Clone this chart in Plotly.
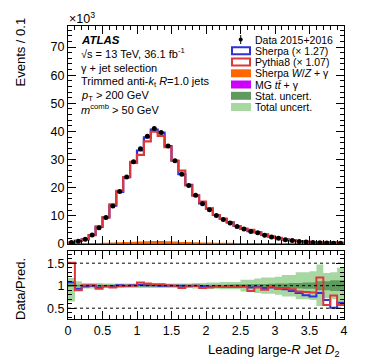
import numpy as np
import plotly.graph_objects as go

# D2 binning, 40 bins of 0.1
edges = np.round(np.arange(0, 4.01, 0.1), 2)
centers = edges[:-1] + 0.05

# data, events in units of 10^3
data = [0.5, 1.0, 1.7, 3.2, 5.8, 9.4, 13.5, 18.7, 23.8, 29.2,
        33.9, 38.3, 41.1, 39.6, 34.8, 29.6, 24.8, 20.8, 17.3, 14.3,
        12.2, 10.1, 8.7, 7.5, 6.2, 5.3, 4.4, 4.0, 3.1, 2.5,
        2.0, 1.5, 1.2, 0.9, 0.7, 0.5, 0.45, 0.35, 0.3, 0.25]

# data / prediction
ratio_sherpa = [1.07, 0.93, 0.98, 1.00, 0.96, 0.99, 0.99, 1.01, 1.00, 1.01,
                1.02, 1.01, 1.01, 1.00, 1.00, 1.00, 1.00, 0.99, 1.00, 0.99,
                0.97, 0.98, 0.97, 0.98, 0.97, 0.98, 0.96, 0.97, 0.95, 0.96,
                0.94, 0.92, 0.88, 0.84, 0.79, 0.76, 0.84, 0.68, 0.51, 0.62]
ratio_pythia = [1.51, 0.90, 1.01, 1.01, 0.93, 0.99, 0.96, 0.99, 1.00, 1.00,
                1.07, 1.05, 1.03, 1.03, 1.01, 1.00, 0.95, 1.00, 1.00, 0.95,
                0.96, 0.98, 0.97, 0.97, 0.97, 0.98, 0.88, 0.96, 0.91, 0.98,
                0.93, 0.95, 0.92, 0.87, 0.86, 0.85, 1.18, 0.57, 0.78, 0.57]

# backgrounds (10^3 events)
sherpa_vgamma = [0.01, 0.02, 0.04, 0.07, 0.12, 0.18, 0.27, 0.37, 0.47, 0.57,
                 0.66, 0.74, 0.78, 0.76, 0.68, 0.58, 0.48, 0.40, 0.33, 0.27,
                 0.23, 0.19, 0.16, 0.14, 0.12, 0.10, 0.08, 0.07, 0.06, 0.05,
                 0.04, 0.03, 0.03, 0.02, 0.02, 0.01, 0.01, 0.01, 0.01, 0.01]
mg_ttgamma = [0.0, 0.0, 0.01, 0.01, 0.01, 0.02, 0.02, 0.03, 0.03, 0.03,
              0.03, 0.03, 0.03, 0.03, 0.03, 0.02, 0.02, 0.02, 0.02, 0.01,
              0.01, 0.01, 0.01, 0.01, 0.01, 0.0, 0.0, 0.0, 0.0, 0.0,
              0.0, 0.0, 0.0, 0.0, 0.0, 0.0, 0.0, 0.0, 0.0, 0.0]

# relative uncertainties in ratio panel
stat_unc = [0.03, 0.02, 0.02, 0.02, 0.02, 0.02, 0.02, 0.02, 0.02, 0.02,
            0.02, 0.02, 0.02, 0.02, 0.02, 0.02, 0.02, 0.02, 0.02, 0.02,
            0.02, 0.02, 0.02, 0.025, 0.03, 0.03, 0.035, 0.04, 0.04, 0.045,
            0.05, 0.05, 0.06, 0.06, 0.07, 0.07, 0.1, 0.1, 0.12, 0.12]
total_up = [0.17, 0.10, 0.06, 0.06, 0.06, 0.05, 0.05, 0.05, 0.05, 0.05,
            0.05, 0.05, 0.05, 0.05, 0.05, 0.05, 0.05, 0.05, 0.06, 0.06,
            0.07, 0.07, 0.08, 0.08, 0.08, 0.13, 0.13, 0.16, 0.18, 0.18,
            0.20, 0.24, 0.24, 0.30, 0.30, 0.32, 0.47, 0.28, 0.30, 0.40]
total_dn = [0.35, 0.12, 0.06, 0.06, 0.06, 0.05, 0.05, 0.05, 0.05, 0.05,
            0.05, 0.05, 0.05, 0.05, 0.05, 0.05, 0.05, 0.05, 0.06, 0.06,
            0.07, 0.07, 0.08, 0.08, 0.08, 0.13, 0.13, 0.16, 0.18, 0.18,
            0.20, 0.24, 0.24, 0.30, 0.30, 0.32, 0.45, 0.28, 0.30, 0.40]

data = np.array(data)
sherpa = data / np.array(ratio_sherpa)
pythia = data / np.array(ratio_pythia)

BLUE = "#3030dd"
RED = "#dd3838"
ORANGE = "#ff6600"
PURPLE = "#cc00ff"
STAT = "#5f9a5f"
TOTAL = "#a8d8a2"
FONT = "Liberation Sans"


def steps(v):
    v = list(v)
    return v + [v[-1]]


fig = go.Figure()

# main panel
fig.add_trace(go.Scatter(x=edges, y=steps(sherpa_vgamma), mode="lines", line_shape="hv",
                         line=dict(color=ORANGE, width=1.5), fill="tozeroy", fillcolor=ORANGE,
                         xaxis="x", yaxis="y"))
fig.add_trace(go.Scatter(x=edges, y=steps(mg_ttgamma), mode="lines", line_shape="hv",
                         line=dict(color=PURPLE, width=1), xaxis="x", yaxis="y"))
fig.add_trace(go.Scatter(x=edges, y=steps(sherpa), mode="lines", line_shape="hv",
                         line=dict(color=BLUE, width=2.2), xaxis="x", yaxis="y"))
fig.add_trace(go.Scatter(x=edges, y=steps(pythia), mode="lines", line_shape="hv",
                         line=dict(color=RED, width=2.2), xaxis="x", yaxis="y"))
fig.add_trace(go.Scatter(x=centers, y=data, mode="markers",
                         marker=dict(color="black", size=5), xaxis="x", yaxis="y"))

# ratio panel bands
ones = np.ones(len(centers))
fig.add_trace(go.Scatter(x=edges, y=steps(ones - np.array(total_dn)), mode="lines", line_shape="hv",
                         line=dict(width=0, color=TOTAL), xaxis="x2", yaxis="y2"))
fig.add_trace(go.Scatter(x=edges, y=steps(ones + np.array(total_up)), mode="lines", line_shape="hv",
                         line=dict(width=0, color=TOTAL), fill="tonexty", fillcolor=TOTAL,
                         xaxis="x2", yaxis="y2"))
fig.add_trace(go.Scatter(x=edges, y=steps(ones - np.array(stat_unc)), mode="lines", line_shape="hv",
                         line=dict(width=0, color=STAT), xaxis="x2", yaxis="y2"))
fig.add_trace(go.Scatter(x=edges, y=steps(ones + np.array(stat_unc)), mode="lines", line_shape="hv",
                         line=dict(width=0, color=STAT), fill="tonexty", fillcolor=STAT,
                         xaxis="x2", yaxis="y2"))
fig.add_trace(go.Scatter(x=edges, y=steps(ratio_sherpa), mode="lines", line_shape="hv",
                         line=dict(color=BLUE, width=2), xaxis="x2", yaxis="y2"))
fig.add_trace(go.Scatter(x=edges, y=steps(ratio_pythia), mode="lines", line_shape="hv",
                         line=dict(color=RED, width=2), xaxis="x2", yaxis="y2"))

# dotted reference lines
for lvl in [0.5, 1.0, 1.5]:
    fig.add_shape(type="line", xref="x2 domain", yref="y2", x0=0, x1=1, y0=lvl, y1=lvl,
                  line=dict(color="black", width=1, dash="dot"), layer="above")

axis_common = dict(showline=True, linecolor="black", linewidth=1, mirror="allticks",
                   ticks="inside", tickcolor="black", showgrid=False, zeroline=False,
                   tickfont=dict(family=FONT, size=12.5, color="black"))

fig.update_layout(
    width=374, height=359,
    margin=dict(l=60, r=38, t=18, b=48),
    paper_bgcolor="white", plot_bgcolor="white",
    showlegend=False,
    font=dict(family=FONT, color="black"),
    xaxis=dict(domain=[0, 1], anchor="y", range=[0, 4], dtick=0.5, ticklen=8,
               showticklabels=False,
               minor=dict(dtick=0.1, ticks="inside", ticklen=4, tickcolor="black"), **axis_common),
    yaxis=dict(domain=[0.256, 1], anchor="x", range=[0, 77.5], dtick=10, ticklen=8,
               minor=dict(dtick=2, ticks="inside", ticklen=4, tickcolor="black"), **axis_common),
    xaxis2=dict(domain=[0, 1], anchor="y2", matches="x", range=[0, 4], dtick=0.5, ticklen=8,
                minor=dict(dtick=0.1, ticks="inside", ticklen=4, tickcolor="black"), **axis_common),
    yaxis2=dict(domain=[0, 0.232], anchor="x2", range=[0.26, 1.77], tick0=0.5, dtick=0.5, ticklen=8,
                minor=dict(dtick=0.1, ticks="inside", ticklen=4, tickcolor="black"), **axis_common),
)


def px(x):
    return (x - 60) / 276.0


def py(y):
    return (311 - y) / 293.0


ann = []
ann.append(dict(text="Events / 0.1", x=px(12), y=py(8), xanchor="center", yanchor="top",
                textangle=-90, font=dict(size=13)))
ann.append(dict(text="Data/Pred.", x=px(12), y=py(281), xanchor="center", yanchor="middle",
                textangle=-90, font=dict(size=13)))
ann.append(dict(text="×10<sup>3</sup>", x=px(59), y=py(10), xanchor="left", yanchor="middle",
                font=dict(size=12.5)))
ann.append(dict(text="Leading large-<i>R</i> Jet <i>D</i><sub>2</sub>", x=px(334), y=py(342),
                xanchor="right", yanchor="middle", font=dict(size=13)))

# ATLAS label block
info = [
    ("<b><i>ATLAS</i></b>", 32, 11.5),
    ("√s = 13 TeV, 36.1 fb<sup>-1</sup>", 45, 11),
    ("γ + jet selection", 60, 11),
    ("Trimmed anti-<i>k</i><sub>t</sub> <i>R</i>=1.0 jets", 74, 11),
    ("<i>p</i><sub>T</sub> > 200 GeV", 88, 11),
    ("<i>m</i><sup>comb</sup> > 50 GeV", 101, 11),
]
for txt, yy, sz in info:
    ann.append(dict(text=txt, x=px(71), y=py(yy), xanchor="left", yanchor="middle",
                    font=dict(size=sz)))

# legend
leg = [
    ("Data 2015+2016", "data"),
    ("Sherpa (× 1.27)", "blue"),
    ("Pythia8 (× 1.07)", "red"),
    ("Sherpa <i>W</i>/<i>Z</i> + γ", ORANGE),
    ("MG <i>tt̄</i> + γ", PURPLE),
    ("Stat. uncert.", STAT),
    ("Total uncert.", TOTAL),
]
leg_y = [31.5, 42.7, 54.0, 65.3, 76.5, 87.8, 99.0]
shapes = []
for (txt, kind), yy in zip(leg, leg_y):
    ann.append(dict(text=txt, x=px(245), y=py(yy), xanchor="left", yanchor="middle",
                    font=dict(size=10.5)))
    if kind == "data":
        shapes.append(dict(type="line", xref="paper", yref="paper", x0=px(232.7), x1=px(232.7),
                           y0=py(yy - 4.5), y1=py(yy + 4.5), line=dict(color="black", width=1)))
        shapes.append(dict(type="circle", xref="paper", yref="paper", x0=px(230.7), x1=px(234.7),
                           y0=py(yy - 2), y1=py(yy + 2), fillcolor="black", line=dict(color="black", width=0)))
    elif kind in ("blue", "red"):
        col = BLUE if kind == "blue" else RED
        shapes.append(dict(type="rect", xref="paper", yref="paper", x0=px(224), x1=px(242),
                           y0=py(yy + 3.5), y1=py(yy - 3.5), fillcolor="white",
                           line=dict(color=col, width=2)))
    else:
        shapes.append(dict(type="rect", xref="paper", yref="paper", x0=px(223), x1=px(243),
                           y0=py(yy + 4), y1=py(yy - 4), fillcolor=kind, line=dict(width=0)))

for a in ann:
    a.update(xref="paper", yref="paper", showarrow=False)
    fig.add_annotation(**a)
for s in shapes:
    fig.add_shape(**s)

fig.write_html("out.html")
